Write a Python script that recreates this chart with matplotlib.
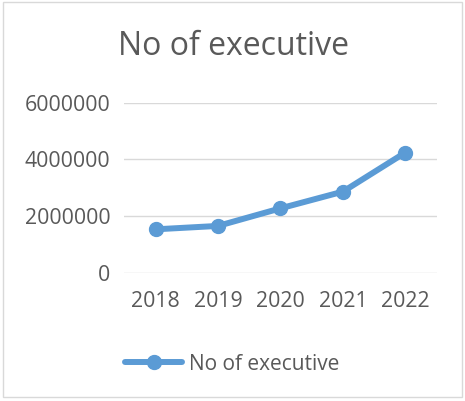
import matplotlib
matplotlib.use("Agg")
import matplotlib.pyplot as plt
from matplotlib.patches import Rectangle

years = ["2018", "2019", "2020", "2021", "2022"]
executives = [1530000, 1650000, 2270000, 2860000, 4240000]
y_ticks = [0, 2000000, 4000000, 6000000]

blue = "#5B9BD5"
text_grey = "#595959"

plt.rcParams["font.family"] = ["Open Sans", "DejaVu Sans"]

fig = plt.figure(figsize=(4.65, 4.01), dpi=100)
ax = fig.add_axes([0.2673, 0.320, 0.6716, 0.4240])

x = list(range(len(years)))
line, = ax.plot(x, executives, color=blue, linewidth=4.3, marker="o",
                markersize=10, solid_capstyle="round", label="No of executive")

ax.set_xlim(-0.5, len(years) - 0.5)
ax.set_ylim(0, 6000000)
ax.set_xticks(x)
ax.set_xticklabels(years)
ax.set_yticks(y_ticks)
ax.set_yticklabels([str(v) for v in y_ticks])
ax.grid(axis="y", color="#D9D9D9", linewidth=1)
ax.set_axisbelow(True)
for s in ax.spines.values():
    s.set_visible(False)
ax.tick_params(axis="both", length=0, labelsize=15.3, labelcolor=text_grey)
ax.tick_params(axis="y", pad=10)
ax.tick_params(axis="x", pad=13)

fig.text(234 / 465, 1 - 55 / 401, "No of executive", ha="center",
         va="baseline", fontsize=23, color=text_grey)

fig.legend(handles=[line], loc="center", bbox_to_anchor=(232 / 465, 1 - 364 / 401),
           frameon=False, fontsize=15, labelcolor=text_grey,
           handlelength=2.75, handletextpad=0.3)

# light outer frame around the whole chart
fig.patches.append(Rectangle((3 / 465, 4 / 401), 459 / 465, 395 / 401,
                             transform=fig.transFigure, fill=False,
                             edgecolor="#D9D9D9", linewidth=1))

fig.savefig("out.png", dpi=100, facecolor="white")
